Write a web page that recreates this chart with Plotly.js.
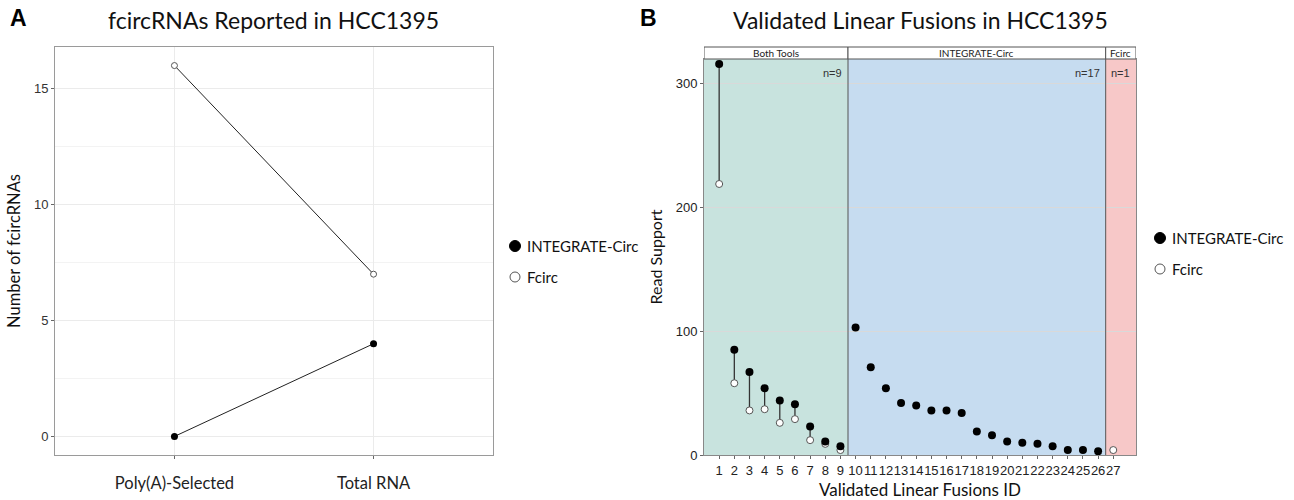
<!DOCTYPE html>
<html>
<head>
<meta charset="utf-8">
<script src="https://cdn.plot.ly/plotly-3.0.1.min.js"></script>
<style>html,body{margin:0;padding:0;background:#fff;}#chart{width:1294px;height:500px;}</style>
</head>
<body>
<div id="chart"></div>
<script>
// ---------- Panel A data ----------
const libraryTypes = ['Poly(A)-Selected', 'Total RNA'];
const integrateCounts = [0, 4];
const fcircCounts = [16, 7];
const toolNames = ['INTEGRATE-Circ', 'Fcirc'];

// ---------- Panel B data ----------
const fusionIds = [1,2,3,4,5,6,7,8,9,10,11,12,13,14,15,16,17,18,19,20,21,22,23,24,25,26,27];
const integrateReads = [316,85,67,54,44,41,23,11,7,103,71,54,42,40,36,36,34,19,16,11,10,9,7,4,4,3,null];
const fcircReads = [219,58,36,37,26,29,12,9,4,null,null,null,null,null,null,null,null,null,null,null,null,null,null,null,null,null,4];
const detectedBy = ['Both Tools','Both Tools','Both Tools','Both Tools','Both Tools','Both Tools','Both Tools','Both Tools','Both Tools',
  'INTEGRATE-Circ','INTEGRATE-Circ','INTEGRATE-Circ','INTEGRATE-Circ','INTEGRATE-Circ','INTEGRATE-Circ','INTEGRATE-Circ','INTEGRATE-Circ',
  'INTEGRATE-Circ','INTEGRATE-Circ','INTEGRATE-Circ','INTEGRATE-Circ','INTEGRATE-Circ','INTEGRATE-Circ','INTEGRATE-Circ','INTEGRATE-Circ','INTEGRATE-Circ',
  'Fcirc'];
const bandNames = ['Both Tools', 'INTEGRATE-Circ', 'Fcirc'];

// ---------- styles ----------
const bandColors = {'Both Tools': '#c8e3de', 'INTEGRATE-Circ': '#c6dcf0', 'Fcirc': '#f7c8c8'};
const toolStyle = {
  'INTEGRATE-Circ': {fill: '#000', line: '#000'},
  'Fcirc': {fill: '#fff', line: '#555'}
};
const calibri = 'Lato, "Open Sans", sans-serif';
const arial = '"Liberation Sans", Arial, sans-serif';
const xRangeB = [0, 28.5];
const W = 1294, H = 500;
const px = v => v / W;
const py = v => 1 - v / H;

// segments between the two tools' read support
const segX = [], segY = [];
fusionIds.forEach((id, i) => {
  if (integrateReads[i] != null && fcircReads[i] != null) {
    segX.push(id, id, null);
    segY.push(integrateReads[i], fcircReads[i], null);
  }
});

const traces = [
  {x: libraryTypes, y: integrateCounts, xaxis: 'x', yaxis: 'y', mode: 'lines',
   line: {color: '#222', width: 1}, showlegend: false, hoverinfo: 'skip'},
  {x: libraryTypes, y: fcircCounts, xaxis: 'x', yaxis: 'y', mode: 'lines',
   line: {color: '#222', width: 1}, showlegend: false, hoverinfo: 'skip'},
  {x: libraryTypes, y: integrateCounts, xaxis: 'x', yaxis: 'y', mode: 'markers', name: toolNames[0],
   marker: {color: '#000', size: 7}, showlegend: false},
  {x: libraryTypes, y: fcircCounts, xaxis: 'x', yaxis: 'y', mode: 'markers', name: toolNames[1],
   marker: {color: '#fff', size: 6, line: {color: '#555', width: 1}}, showlegend: false},

  {x: segX, y: segY, xaxis: 'x2', yaxis: 'y2', mode: 'lines', line: {color: '#333', width: 1.3},
   showlegend: false, hoverinfo: 'skip', connectgaps: false},
  {x: fusionIds, y: fcircReads, xaxis: 'x2', yaxis: 'y2', mode: 'markers', name: toolNames[1],
   marker: {color: '#fff', size: 7, line: {color: '#555', width: 1}}, showlegend: false},
  {x: fusionIds, y: integrateReads, xaxis: 'x2', yaxis: 'y2', mode: 'markers', name: toolNames[0],
   marker: {color: '#000', size: 8}, showlegend: false}
];

// bands, strips and counts for panel B
const shapes = [];
const annotations = [];
const panelTop = py(59), stripTop = py(47);
bandNames.forEach((name, b) => {
  const ids = fusionIds.filter((id, i) => detectedBy[i] === name);
  const prevIds = b > 0 ? fusionIds.filter((id, i) => detectedBy[i] === bandNames[b - 1]) : null;
  const nextIds = b < bandNames.length - 1 ? fusionIds.filter((id, i) => detectedBy[i] === bandNames[b + 1]) : null;
  const x0 = prevIds ? (Math.max(...prevIds) + Math.min(...ids)) / 2 : xRangeB[0];
  const x1 = nextIds ? (Math.max(...ids) + Math.min(...nextIds)) / 2 : xRangeB[1];
  shapes.push({type: 'rect', xref: 'x2', yref: 'y2 domain', x0: x0, x1: x1, y0: 0, y1: 1,
    fillcolor: bandColors[name], line: {width: 0}, layer: 'below'});
  shapes.push({type: 'rect', xref: 'x2', yref: 'paper', x0: x0, x1: x1, y0: panelTop, y1: stripTop,
    fillcolor: '#fff', line: {color: '#555', width: 1}, layer: 'above'});
  if (b > 0) {
    shapes.push({type: 'line', xref: 'x2', yref: 'y2 domain', x0: x0, x1: x0, y0: 0, y1: 1,
      line: {color: '#555', width: 1}, layer: 'above'});
  }
  annotations.push({text: name, xref: 'x2', yref: 'paper', x: (x0 + x1) / 2, y: (panelTop + stripTop) / 2,
    showarrow: false, font: {family: calibri, size: 10, color: '#222'}, xanchor: 'center', yanchor: 'middle'});
  annotations.push({text: 'n=' + ids.length, xref: 'x2', yref: 'y2 domain', x: x1, y: 1, yshift: -14, xshift: -4,
    showarrow: false, font: {family: arial, size: 11, color: '#333'}, xanchor: 'right', yanchor: 'middle'});
});

// legends (one per panel), drawn as key symbols + labels
function addLegend(markerX, rowYs) {
  toolNames.forEach((tool, k) => {
    const st = toolStyle[tool];
    const r = k === 0 ? 5.5 : 5;
    shapes.push({type: 'circle', xref: 'paper', yref: 'paper', xsizemode: 'pixel', ysizemode: 'pixel',
      xanchor: px(markerX), yanchor: py(rowYs[k]), x0: -r, x1: r, y0: -r, y1: r,
      fillcolor: st.fill, line: {color: st.line, width: 1}, layer: 'above'});
    annotations.push({text: tool, xref: 'paper', yref: 'paper', x: px(markerX + 10), y: py(rowYs[k]),
      showarrow: false, xanchor: 'left', yanchor: 'middle',
      font: {family: calibri, size: 15, color: '#111'}});
  });
}
addLegend(515, [246, 277]);
addLegend(1160, [238, 269]);

annotations.push(
  {text: '<b>A</b>', xref: 'paper', yref: 'paper', x: px(18), y: py(18), showarrow: false,
   font: {family: arial, size: 23, color: '#000'}, xanchor: 'center', yanchor: 'middle'},
  {text: '<b>B</b>', xref: 'paper', yref: 'paper', x: px(648), y: py(18), showarrow: false,
   font: {family: arial, size: 23, color: '#000'}, xanchor: 'center', yanchor: 'middle'},
  {text: 'fcircRNAs Reported in HCC1395', xref: 'paper', yref: 'paper', x: px(273), y: py(20), showarrow: false,
   font: {family: calibri, size: 23, color: '#111'}, xanchor: 'center', yanchor: 'middle'},
  {text: 'Validated Linear Fusions in HCC1395', xref: 'paper', yref: 'paper', x: px(920), y: py(20), showarrow: false,
   font: {family: calibri, size: 23, color: '#111'}, xanchor: 'center', yanchor: 'middle'}
);

const layout = {
  width: W, height: H,
  margin: {l: 0, r: 0, t: 0, b: 0, autoexpand: false},
  paper_bgcolor: '#fff', plot_bgcolor: '#fff',
  showlegend: false,
  xaxis: {domain: [px(55), px(493)], anchor: 'y', type: 'category', categoryarray: libraryTypes,
    range: [-0.6, 1.6], showgrid: true, gridcolor: '#ebebeb', zeroline: false,
    ticks: 'outside', ticklen: 3, tickcolor: '#666', ticklabelstandoff: 10,
    showline: true, mirror: true, linecolor: '#9a9a9a', linewidth: 1,
    tickfont: {family: calibri, size: 16.5, color: '#222'}},
  yaxis: {domain: [py(455), py(47)], anchor: 'x', range: [-0.8, 16.8], tick0: 0, dtick: 5,
    showgrid: true, gridcolor: '#ebebeb', zeroline: false,
    minor: {dtick: 2.5, tick0: 0, showgrid: true, gridcolor: '#f3f3f3', ticks: ''},
    ticks: 'outside', ticklen: 3, tickcolor: '#666',
    showline: true, mirror: true, linecolor: '#9a9a9a', linewidth: 1,
    tickfont: {family: arial, size: 13, color: '#333'},
    title: {text: 'Number of fcircRNAs', font: {family: calibri, size: 16.5, color: '#111'}, standoff: 9}},
  xaxis2: {domain: [px(704), px(1136)], anchor: 'y2', range: xRangeB,
    tickmode: 'array', tickvals: fusionIds, ticktext: fusionIds.map(String), tickangle: 0,
    showgrid: false, zeroline: false, ticks: 'outside', ticklen: 3, tickcolor: '#666',
    showline: true, mirror: true, linecolor: '#888', linewidth: 1,
    tickfont: {family: arial, size: 13, color: '#222'},
    title: {text: 'Validated Linear Fusions ID', font: {family: calibri, size: 17, color: '#111'}, standoff: 9}},
  yaxis2: {domain: [py(455), py(59)], anchor: 'x2', range: [0, 320], tick0: 0, dtick: 100,
    showgrid: true, gridcolor: '#d9d9d9', zeroline: false,
    ticks: 'outside', ticklen: 3, tickcolor: '#666',
    showline: true, mirror: true, linecolor: '#888', linewidth: 1,
    tickfont: {family: arial, size: 13, color: '#222'},
    title: {text: 'Read Support', font: {family: calibri, size: 16, color: '#111'}, standoff: 9}},
  shapes: shapes,
  annotations: annotations
};

Plotly.newPlot('chart', traces, layout, {displayModeBar: false, staticPlot: true});
</script>
</body>
</html>
